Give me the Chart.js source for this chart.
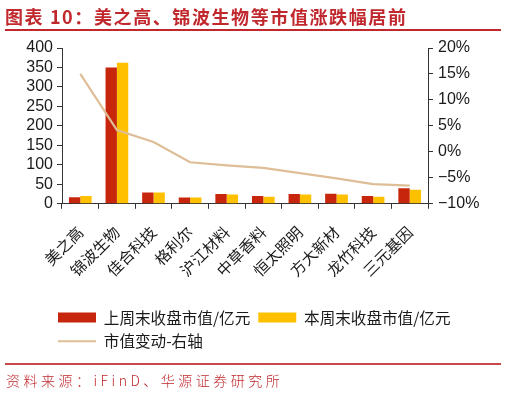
<!DOCTYPE html>
<html>
<head>
<meta charset="utf-8">
<script src="https://cdn.jsdelivr.net/npm/chart.js@4.4.1/dist/chart.umd.min.js"></script>
<style>
  html, body { margin: 0; padding: 0; background: #fff; }
  #wrap { position: relative; width: 506px; height: 397px; overflow: hidden; }
  #c { position: absolute; left: 0; top: 0; }
  #title { position: absolute; left: 5px; top: 4px; font-family: "Noto Sans CJK SC", sans-serif; font-weight: bold; font-size: 18px; color: #C0282D; letter-spacing: 1.6px; white-space: nowrap; line-height: 24px; }
  #tline { position: absolute; left: 5px; top: 29px; width: 496px; height: 2px; background: #C0282D; }
  #bline { position: absolute; left: 5px; top: 363px; width: 496px; height: 2px; background: #C9474B; }
  #source { position: absolute; left: 6px; top: 370px; font-family: "Noto Sans CJK SC", sans-serif; font-weight: 300; font-size: 14px; color: #C0282D; letter-spacing: 3.5px; white-space: nowrap; line-height: 20px; }
</style>
</head>
<body>
<div id="wrap">
  <canvas id="c" width="506" height="397"></canvas>
  <div id="title">图表 10：美之高、锦波生物等市值涨跌幅居前</div>
  <div id="tline"></div>
  <div id="bline"></div>
  <div id="source">资料来源：iFinD、华源证券研究所</div>
</div>
<script>
const categories = ['美之高', '锦波生物', '佳合科技', '格利尔', '沪江材料', '中草香料', '恒太照明', '方大新材', '龙竹科技', '三元基因'];
const lastWeekCap = [17, 350, 29, 16, 25, 20, 25, 26, 20, 40];
const thisWeekCap = [20, 362, 29, 16, 24, 18, 24, 24, 18, 36];
const capChangePct = [15.0, 4.2, 1.9, -2.0, -2.6, -3.1, -4.1, -5.1, -6.2, -6.5];
const leftTicks = [0, 50, 100, 150, 200, 250, 300, 350, 400];
const rightTicks = [-10, -5, 0, 5, 10, 15, 20];
const seriesNames = ['上周末收盘市值/亿元', '本周末收盘市值/亿元', '市值变动-右轴'];

const RED = '#C8260C';
const YELLOW = '#FFC000';
const TAN = '#DDBE96';
const AXIS = '#333333';
const TXT = '#1a1a1a';

const legendShift = {
  id: 'legendShift',
  afterLayout(chart) {
    if (chart.legend) { chart.legend.left = 50; }
  }
};

const ctx = document.getElementById('c').getContext('2d');
new Chart(ctx, {
  type: 'bar',
  plugins: [legendShift],
  data: {
    labels: categories,
    datasets: [
      { label: seriesNames[0], data: lastWeekCap, backgroundColor: RED, borderWidth: 0, yAxisID: 'y', order: 1, categoryPercentage: 0.62, barPercentage: 1.0 },
      { label: seriesNames[1], data: thisWeekCap, backgroundColor: YELLOW, borderWidth: 0, yAxisID: 'y', order: 1, categoryPercentage: 0.62, barPercentage: 1.0 },
      { type: 'line', label: seriesNames[2], data: capChangePct, borderColor: TAN, backgroundColor: TAN, borderWidth: 2.2, pointRadius: 0, pointHoverRadius: 0, tension: 0, yAxisID: 'y1', order: 0, pointStyle: 'line' }
    ]
  },
  options: {
    responsive: false,
    animation: false,
    events: [],
    layout: { padding: { left: 0, right: 0, top: 48, bottom: 38 } },
    plugins: {
      tooltip: { enabled: false },
      legend: {
        position: 'bottom',
        align: 'start',
        labels: {
          usePointStyle: true,
          pointStyleWidth: 38,
          boxHeight: 10,
          padding: 8,
          color: TXT,
          font: { family: '"Noto Sans CJK SC", sans-serif', size: 15.6 },
          generateLabels: function(chart) {
            const items = Chart.defaults.plugins.legend.labels.generateLabels(chart);
            items.sort((a, b) => a.datasetIndex - b.datasetIndex);
            items.forEach(it => {
              if (it.datasetIndex === 2) {
                it.pointStyle = 'line';
                it.strokeStyle = TAN;
                it.lineWidth = 2;
              } else {
                it.pointStyle = 'rect';
                it.lineWidth = 0;
              }
            });
            return items;
          }
        }
      }
    },
    scales: {
      x: {
        offset: true,
        grid: { display: true, offset: true, drawOnChartArea: false, drawTicks: true, tickLength: 5, color: AXIS, lineWidth: 1 },
        border: { display: true, color: AXIS, width: 1 },
        ticks: { minRotation: 45, maxRotation: 45, autoSkip: false, padding: 14, color: TXT, font: { family: '"Noto Sans CJK SC", sans-serif', size: 15.5 } },
        afterFit: function(s) { s.height = 98; }
      },
      y: {
        position: 'left',
        min: 0, max: 400,
        afterBuildTicks: function(s) { s.ticks = leftTicks.map(v => ({ value: v })); },
        grid: { display: true, drawOnChartArea: false, drawTicks: true, tickLength: 5, color: AXIS },
        border: { display: true, color: AXIS, width: 1 },
        ticks: { autoSkip: false, padding: 4, color: TXT, font: { family: '"Liberation Sans", Arial, sans-serif', size: 16 } },
        afterFit: function(s) { s.width = 62; }
      },
      y1: {
        position: 'right',
        min: -10, max: 20,
        afterBuildTicks: function(s) { s.ticks = rightTicks.map(v => ({ value: v })); },
        grid: { display: true, drawOnChartArea: false, drawTicks: true, tickLength: 5, color: AXIS },
        border: { display: true, color: AXIS, width: 1 },
        ticks: { autoSkip: false, padding: 5, color: TXT, font: { family: '"Liberation Sans", Arial, sans-serif', size: 16 },
          callback: function(v) { return (v < 0 ? '\u2212' + Math.abs(v) : v) + '%'; } },
        afterFit: function(s) { s.width = 78; }
      }
    }
  }
});
</script>
</body>
</html>
